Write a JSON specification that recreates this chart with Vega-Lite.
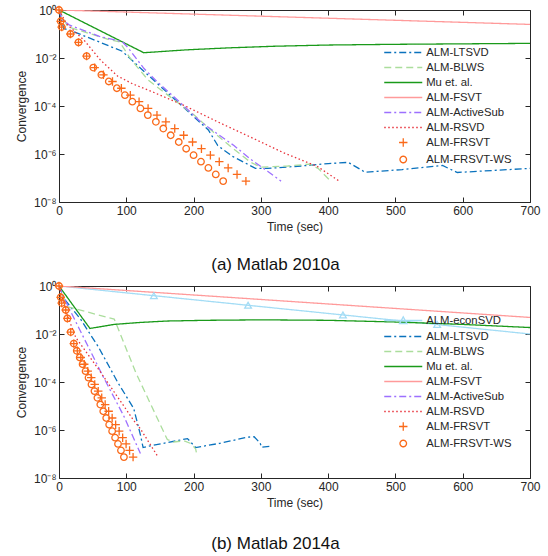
{
  "$schema": "https://vega.github.io/schema/vega-lite/v6.json",
  "background": "white",
  "padding": {"left": 15, "top": 3, "right": 5, "bottom": 0},
  "datasets": {
    "a_lines": [
      {"m": "ALM-LTSVD", "t": 0, "c": 1}, {"m": "ALM-LTSVD", "t": 7, "c": 0.17}, {"m": "ALM-LTSVD", "t": 20, "c": 0.132}, {"m": "ALM-LTSVD", "t": 94, "c": 0.0191}, {"m": "ALM-LTSVD", "t": 128, "c": 2.51e-3}, {"m": "ALM-LTSVD", "t": 222, "c": 1e-5}, {"m": "ALM-LTSVD", "t": 236, "c": 2.24e-6}, {"m": "ALM-LTSVD", "t": 258, "c": 7.94e-7}, {"m": "ALM-LTSVD", "t": 282, "c": 3.55e-7}, {"m": "ALM-LTSVD", "t": 292, "c": 2.51e-7}, {"m": "ALM-LTSVD", "t": 310, "c": 2.51e-7}, {"m": "ALM-LTSVD", "t": 360, "c": 3.16e-7}, {"m": "ALM-LTSVD", "t": 400, "c": 3.98e-7}, {"m": "ALM-LTSVD", "t": 430, "c": 4.47e-7}, {"m": "ALM-LTSVD", "t": 455, "c": 1.74e-7}, {"m": "ALM-LTSVD", "t": 510, "c": 2.24e-7}, {"m": "ALM-LTSVD", "t": 570, "c": 3.31e-7}, {"m": "ALM-LTSVD", "t": 592, "c": 1.70e-7}, {"m": "ALM-LTSVD", "t": 700, "c": 2.51e-7},
      {"m": "ALM-BLWS", "t": 0, "c": 1}, {"m": "ALM-BLWS", "t": 13, "c": 0.2}, {"m": "ALM-BLWS", "t": 73, "c": 0.0603}, {"m": "ALM-BLWS", "t": 90, "c": 0.0468}, {"m": "ALM-BLWS", "t": 108, "c": 7.94e-3}, {"m": "ALM-BLWS", "t": 133, "c": 1.17e-3}, {"m": "ALM-BLWS", "t": 168, "c": 2.09e-4}, {"m": "ALM-BLWS", "t": 200, "c": 4.37e-5}, {"m": "ALM-BLWS", "t": 230, "c": 7.94e-6}, {"m": "ALM-BLWS", "t": 260, "c": 1.58e-6}, {"m": "ALM-BLWS", "t": 285, "c": 4.47e-7}, {"m": "ALM-BLWS", "t": 300, "c": 2.82e-7}, {"m": "ALM-BLWS", "t": 340, "c": 3.16e-7}, {"m": "ALM-BLWS", "t": 372, "c": 3.8e-7}, {"m": "ALM-BLWS", "t": 385, "c": 2.51e-7}, {"m": "ALM-BLWS", "t": 401, "c": 8.91e-8},
      {"m": "Mu et. al.", "t": 0, "c": 1}, {"m": "Mu et. al.", "t": 126, "c": 0.0166}, {"m": "Mu et. al.", "t": 190, "c": 0.0219}, {"m": "Mu et. al.", "t": 250, "c": 0.0263}, {"m": "Mu et. al.", "t": 320, "c": 0.0309}, {"m": "Mu et. al.", "t": 400, "c": 0.0347}, {"m": "Mu et. al.", "t": 500, "c": 0.0372}, {"m": "Mu et. al.", "t": 600, "c": 0.0389}, {"m": "Mu et. al.", "t": 700, "c": 0.0407},
      {"m": "ALM-FSVT", "t": 0, "c": 1}, {"m": "ALM-FSVT", "t": 700, "c": 0.251},
      {"m": "ALM-ActiveSub", "t": 0, "c": 1}, {"m": "ALM-ActiveSub", "t": 5, "c": 0.398}, {"m": "ALM-ActiveSub", "t": 15, "c": 0.24}, {"m": "ALM-ActiveSub", "t": 30, "c": 0.166}, {"m": "ALM-ActiveSub", "t": 60, "c": 0.0794}, {"m": "ALM-ActiveSub", "t": 94, "c": 0.0479}, {"m": "ALM-ActiveSub", "t": 102, "c": 0.0282}, {"m": "ALM-ActiveSub", "t": 126, "c": 3.72e-3}, {"m": "ALM-ActiveSub", "t": 146, "c": 1.02e-3}, {"m": "ALM-ActiveSub", "t": 180, "c": 1.41e-4}, {"m": "ALM-ActiveSub", "t": 210, "c": 2.24e-5}, {"m": "ALM-ActiveSub", "t": 240, "c": 5.62e-6}, {"m": "ALM-ActiveSub", "t": 260, "c": 2.24e-6}, {"m": "ALM-ActiveSub", "t": 285, "c": 6.03e-7}, {"m": "ALM-ActiveSub", "t": 310, "c": 1.91e-7}, {"m": "ALM-ActiveSub", "t": 330, "c": 7.41e-8},
      {"m": "ALM-RSVD", "t": 0, "c": 1}, {"m": "ALM-RSVD", "t": 12, "c": 0.251}, {"m": "ALM-RSVD", "t": 37, "c": 0.0562}, {"m": "ALM-RSVD", "t": 62, "c": 7.94e-3}, {"m": "ALM-RSVD", "t": 87, "c": 1.78e-3}, {"m": "ALM-RSVD", "t": 110, "c": 8.2e-4}, {"m": "ALM-RSVD", "t": 136, "c": 4.2e-4}, {"m": "ALM-RSVD", "t": 186, "c": 1.05e-4}, {"m": "ALM-RSVD", "t": 235, "c": 2.24e-5}, {"m": "ALM-RSVD", "t": 285, "c": 5.01e-6}, {"m": "ALM-RSVD", "t": 334, "c": 1.12e-6}, {"m": "ALM-RSVD", "t": 384, "c": 3.02e-7}, {"m": "ALM-RSVD", "t": 416, "c": 7.59e-8}
    ],
    "a_marks": [
      {"m": "ALM-FRSVT", "t": 0, "c": 1}, {"m": "ALM-FRSVT", "t": 2.5, "c": 0.339}, {"m": "ALM-FRSVT", "t": 4, "c": 0.195}, {"m": "ALM-FRSVT", "t": 17, "c": 0.1}, {"m": "ALM-FRSVT", "t": 29, "c": 0.0447}, {"m": "ALM-FRSVT", "t": 41, "c": 0.012}, {"m": "ALM-FRSVT", "t": 53, "c": 3.98e-3}, {"m": "ALM-FRSVT", "t": 66, "c": 2.0e-3}, {"m": "ALM-FRSVT", "t": 79.5, "c": 1.05e-3}, {"m": "ALM-FRSVT", "t": 92.7, "c": 5.5e-4}, {"m": "ALM-FRSVT", "t": 106, "c": 2.82e-4}, {"m": "ALM-FRSVT", "t": 119, "c": 1.51e-4}, {"m": "ALM-FRSVT", "t": 132.4, "c": 7.94e-5}, {"m": "ALM-FRSVT", "t": 145.6, "c": 4.17e-5}, {"m": "ALM-FRSVT", "t": 158.8, "c": 2.19e-5}, {"m": "ALM-FRSVT", "t": 172, "c": 1.15e-5}, {"m": "ALM-FRSVT", "t": 185.3, "c": 6.03e-6}, {"m": "ALM-FRSVT", "t": 198.5, "c": 3.16e-6}, {"m": "ALM-FRSVT", "t": 211.7, "c": 1.66e-6}, {"m": "ALM-FRSVT", "t": 225, "c": 8.91e-7}, {"m": "ALM-FRSVT", "t": 238.2, "c": 4.79e-7}, {"m": "ALM-FRSVT", "t": 251.4, "c": 2.63e-7}, {"m": "ALM-FRSVT", "t": 264.6, "c": 1.41e-7}, {"m": "ALM-FRSVT", "t": 277.8, "c": 7.41e-8},
      {"m": "ALM-FRSVT-WS", "t": 0, "c": 1}, {"m": "ALM-FRSVT-WS", "t": 2.5, "c": 0.339}, {"m": "ALM-FRSVT-WS", "t": 4, "c": 0.195}, {"m": "ALM-FRSVT-WS", "t": 17, "c": 0.1}, {"m": "ALM-FRSVT-WS", "t": 29, "c": 0.0447}, {"m": "ALM-FRSVT-WS", "t": 41, "c": 0.012}, {"m": "ALM-FRSVT-WS", "t": 51, "c": 3.98e-3}, {"m": "ALM-FRSVT-WS", "t": 63, "c": 2.0e-3}, {"m": "ALM-FRSVT-WS", "t": 74, "c": 1.05e-3}, {"m": "ALM-FRSVT-WS", "t": 86, "c": 5.5e-4}, {"m": "ALM-FRSVT-WS", "t": 98, "c": 2.82e-4}, {"m": "ALM-FRSVT-WS", "t": 109, "c": 1.51e-4}, {"m": "ALM-FRSVT-WS", "t": 121, "c": 7.94e-5}, {"m": "ALM-FRSVT-WS", "t": 132, "c": 4.17e-5}, {"m": "ALM-FRSVT-WS", "t": 144, "c": 2.19e-5}, {"m": "ALM-FRSVT-WS", "t": 155, "c": 1.15e-5}, {"m": "ALM-FRSVT-WS", "t": 166, "c": 6.03e-6}, {"m": "ALM-FRSVT-WS", "t": 178, "c": 3.16e-6}, {"m": "ALM-FRSVT-WS", "t": 189, "c": 1.66e-6}, {"m": "ALM-FRSVT-WS", "t": 200, "c": 8.91e-7}, {"m": "ALM-FRSVT-WS", "t": 211, "c": 4.79e-7}, {"m": "ALM-FRSVT-WS", "t": 222, "c": 2.63e-7}, {"m": "ALM-FRSVT-WS", "t": 233, "c": 1.41e-7}, {"m": "ALM-FRSVT-WS", "t": 244, "c": 7.41e-8}
    ],
    "b_lines": [
      {"m": "ALM-econSVD", "t": 0, "c": 1}, {"m": "ALM-econSVD", "t": 141, "c": 0.395}, {"m": "ALM-econSVD", "t": 281, "c": 0.157}, {"m": "ALM-econSVD", "t": 422, "c": 0.0622}, {"m": "ALM-econSVD", "t": 562, "c": 0.0248}, {"m": "ALM-econSVD", "t": 700, "c": 0.01},
      {"m": "ALM-LTSVD", "t": 0, "c": 1}, {"m": "ALM-LTSVD", "t": 8, "c": 0.282}, {"m": "ALM-LTSVD", "t": 32, "c": 0.0417}, {"m": "ALM-LTSVD", "t": 59, "c": 2.75e-3}, {"m": "ALM-LTSVD", "t": 87, "c": 1e-4}, {"m": "ALM-LTSVD", "t": 111, "c": 7.94e-6}, {"m": "ALM-LTSVD", "t": 121, "c": 6.31e-7}, {"m": "ALM-LTSVD", "t": 125, "c": 1.86e-7}, {"m": "ALM-LTSVD", "t": 136, "c": 2.19e-7}, {"m": "ALM-LTSVD", "t": 191, "c": 4.37e-7}, {"m": "ALM-LTSVD", "t": 198, "c": 2.69e-7}, {"m": "ALM-LTSVD", "t": 203, "c": 1.86e-7}, {"m": "ALM-LTSVD", "t": 240, "c": 2.82e-7}, {"m": "ALM-LTSVD", "t": 280, "c": 5.01e-7}, {"m": "ALM-LTSVD", "t": 290, "c": 5.25e-7}, {"m": "ALM-LTSVD", "t": 299, "c": 2.82e-7}, {"m": "ALM-LTSVD", "t": 301, "c": 1.91e-7}, {"m": "ALM-LTSVD", "t": 317, "c": 2.14e-7},
      {"m": "ALM-BLWS", "t": 0, "c": 1}, {"m": "ALM-BLWS", "t": 12, "c": 0.138}, {"m": "ALM-BLWS", "t": 82, "c": 0.0417}, {"m": "ALM-BLWS", "t": 84, "c": 0.0316}, {"m": "ALM-BLWS", "t": 114, "c": 2.51e-4}, {"m": "ALM-BLWS", "t": 161, "c": 3.98e-7}, {"m": "ALM-BLWS", "t": 170, "c": 3.16e-7}, {"m": "ALM-BLWS", "t": 186, "c": 3.55e-7}, {"m": "ALM-BLWS", "t": 195, "c": 2.82e-7}, {"m": "ALM-BLWS", "t": 203, "c": 1.66e-7}, {"m": "ALM-BLWS", "t": 205, "c": 8.91e-8},
      {"m": "Mu et. al.", "t": 0, "c": 1}, {"m": "Mu et. al.", "t": 46, "c": 0.017}, {"m": "Mu et. al.", "t": 82, "c": 0.0251}, {"m": "Mu et. al.", "t": 120, "c": 0.0302}, {"m": "Mu et. al.", "t": 160, "c": 0.0347}, {"m": "Mu et. al.", "t": 220, "c": 0.0372}, {"m": "Mu et. al.", "t": 300, "c": 0.0389}, {"m": "Mu et. al.", "t": 400, "c": 0.0372}, {"m": "Mu et. al.", "t": 500, "c": 0.0316}, {"m": "Mu et. al.", "t": 600, "c": 0.0251}, {"m": "Mu et. al.", "t": 700, "c": 0.0186},
      {"m": "ALM-FSVT", "t": 0, "c": 1}, {"m": "ALM-FSVT", "t": 700, "c": 0.049},
      {"m": "ALM-ActiveSub", "t": 0, "c": 1}, {"m": "ALM-ActiveSub", "t": 10, "c": 0.224}, {"m": "ALM-ActiveSub", "t": 42, "c": 3.55e-3}, {"m": "ALM-ActiveSub", "t": 67, "c": 1.41e-4}, {"m": "ALM-ActiveSub", "t": 96, "c": 3.98e-6}, {"m": "ALM-ActiveSub", "t": 121, "c": 1.05e-7},
      {"m": "ALM-RSVD", "t": 0, "c": 1}, {"m": "ALM-RSVD", "t": 12, "c": 0.0631}, {"m": "ALM-RSVD", "t": 25, "c": 7.08e-3}, {"m": "ALM-RSVD", "t": 62, "c": 2.51e-4}, {"m": "ALM-RSVD", "t": 111, "c": 2.51e-6}, {"m": "ALM-RSVD", "t": 121, "c": 1.12e-6}, {"m": "ALM-RSVD", "t": 146, "c": 8.51e-8}
    ],
    "b_marks": [
      {"m": "ALM-FRSVT", "t": 0, "c": 1}, {"m": "ALM-FRSVT", "t": 2.5, "c": 0.339}, {"m": "ALM-FRSVT", "t": 4, "c": 0.195}, {"m": "ALM-FRSVT", "t": 10, "c": 0.1}, {"m": "ALM-FRSVT", "t": 12.5, "c": 0.0447}, {"m": "ALM-FRSVT", "t": 17.4, "c": 0.012}, {"m": "ALM-FRSVT", "t": 22, "c": 3.98e-3}, {"m": "ALM-FRSVT", "t": 27.2, "c": 2.0e-3}, {"m": "ALM-FRSVT", "t": 32.4, "c": 1.05e-3}, {"m": "ALM-FRSVT", "t": 37.5, "c": 5.5e-4}, {"m": "ALM-FRSVT", "t": 42.7, "c": 2.82e-4}, {"m": "ALM-FRSVT", "t": 47.9, "c": 1.51e-4}, {"m": "ALM-FRSVT", "t": 53.1, "c": 7.94e-5}, {"m": "ALM-FRSVT", "t": 58.3, "c": 4.17e-5}, {"m": "ALM-FRSVT", "t": 63.5, "c": 2.19e-5}, {"m": "ALM-FRSVT", "t": 68.6, "c": 1.15e-5}, {"m": "ALM-FRSVT", "t": 73.8, "c": 6.03e-6}, {"m": "ALM-FRSVT", "t": 79, "c": 3.16e-6}, {"m": "ALM-FRSVT", "t": 84.2, "c": 1.66e-6}, {"m": "ALM-FRSVT", "t": 89.4, "c": 8.91e-7}, {"m": "ALM-FRSVT", "t": 94.6, "c": 4.79e-7}, {"m": "ALM-FRSVT", "t": 99.7, "c": 2.63e-7}, {"m": "ALM-FRSVT", "t": 104.9, "c": 1.41e-7}, {"m": "ALM-FRSVT", "t": 110.1, "c": 7.41e-8},
      {"m": "ALM-FRSVT-WS", "t": 0, "c": 1}, {"m": "ALM-FRSVT-WS", "t": 2.5, "c": 0.339}, {"m": "ALM-FRSVT-WS", "t": 4, "c": 0.195}, {"m": "ALM-FRSVT-WS", "t": 10, "c": 0.1}, {"m": "ALM-FRSVT-WS", "t": 12.5, "c": 0.0447}, {"m": "ALM-FRSVT-WS", "t": 17.4, "c": 0.012}, {"m": "ALM-FRSVT-WS", "t": 22, "c": 3.98e-3}, {"m": "ALM-FRSVT-WS", "t": 26.4, "c": 2.0e-3}, {"m": "ALM-FRSVT-WS", "t": 30.8, "c": 1.05e-3}, {"m": "ALM-FRSVT-WS", "t": 35.1, "c": 5.5e-4}, {"m": "ALM-FRSVT-WS", "t": 39.5, "c": 2.82e-4}, {"m": "ALM-FRSVT-WS", "t": 43.9, "c": 1.51e-4}, {"m": "ALM-FRSVT-WS", "t": 48.3, "c": 7.94e-5}, {"m": "ALM-FRSVT-WS", "t": 52.7, "c": 4.17e-5}, {"m": "ALM-FRSVT-WS", "t": 57.1, "c": 2.19e-5}, {"m": "ALM-FRSVT-WS", "t": 61.4, "c": 1.15e-5}, {"m": "ALM-FRSVT-WS", "t": 65.8, "c": 6.03e-6}, {"m": "ALM-FRSVT-WS", "t": 70.2, "c": 3.16e-6}, {"m": "ALM-FRSVT-WS", "t": 74.6, "c": 1.66e-6}, {"m": "ALM-FRSVT-WS", "t": 79, "c": 8.91e-7}, {"m": "ALM-FRSVT-WS", "t": 83.4, "c": 4.79e-7}, {"m": "ALM-FRSVT-WS", "t": 87.7, "c": 2.63e-7}, {"m": "ALM-FRSVT-WS", "t": 92.1, "c": 1.41e-7}, {"m": "ALM-FRSVT-WS", "t": 96.5, "c": 7.41e-8}
    ]
  },
  "spacing": 6,
  "vconcat": [
    {
      "width": 471, "height": 192,
      "title": {"text": "(a)  Matlab 2010a", "orient": "bottom", "offset": 25, "dx": -19},
      "layer": [
        {
          "data": {"name": "a_lines"},
          "mark": {"type": "line", "strokeWidth": 1.3, "clip": true},
          "encoding": {
            "x": {"field": "t", "type": "quantitative", "scale": {"domain": [0, 700], "nice": false}, "axis": {"orient": "bottom", "values": [0, 100, 200, 300, 400, 500, 600, 700], "title": "Time (sec)"}},
            "y": {"field": "c", "type": "quantitative", "scale": {"type": "log", "domain": [1e-8, 1], "nice": false}, "axis": {"orient": "left", "values": [1e-8, 1e-6, 1e-4, 1e-2, 1], "title": "Convergence", "labelExpr": "'10' + (datum.value >= 0.5 ? '⁰' : datum.value >= 0.005 ? '⁻²' : datum.value >= 5e-5 ? '⁻⁴' : datum.value >= 5e-7 ? '⁻⁶' : '⁻⁸')"}},
            "color": {"field": "m", "type": "nominal", "scale": {"domain": ["ALM-LTSVD", "ALM-BLWS", "Mu et. al.", "ALM-FSVT", "ALM-ActiveSub", "ALM-RSVD", "ALM-FRSVT", "ALM-FRSVT-WS"], "range": ["#0a72bd", "#abdd9c", "#1a9a1a", "#ff9a9a", "#9d70ff", "#e8333b", "#fa6a1a", "#fa6a1a"]}, "legend": {"title": null, "orient": "none", "legendX": 325, "legendY": 33}},
            "strokeDash": {"field": "m", "type": "nominal", "scale": {"domain": ["ALM-LTSVD", "ALM-BLWS", "Mu et. al.", "ALM-FSVT", "ALM-ActiveSub", "ALM-RSVD", "ALM-FRSVT", "ALM-FRSVT-WS"], "range": [[7, 3, 2, 3], [7, 4], [1, 0], [1, 0], [7, 3, 2, 3], [1.5, 2.5], [1, 0], [1, 0]]}, "legend": {"title": null, "orient": "none", "legendX": 325, "legendY": 33}}
          }
        },
        {
          "data": {"name": "a_marks"},
          "mark": {"type": "point", "filled": false, "size": 296, "strokeWidth": 1.3, "opacity": 1},
          "encoding": {
            "x": {"field": "t", "type": "quantitative", "scale": {"domain": [0, 700], "nice": false}, "axis": {"orient": "top", "values": [0, 100, 200, 300, 400, 500, 600, 700], "labels": false, "title": null}},
            "y": {"field": "c", "type": "quantitative", "scale": {"type": "log", "domain": [1e-8, 1], "nice": false}, "axis": {"orient": "right", "values": [1e-8, 1e-6, 1e-4, 1e-2, 1], "labels": false, "title": null}},
            "color": {"field": "m", "type": "nominal", "scale": {"domain": ["ALM-LTSVD", "ALM-BLWS", "Mu et. al.", "ALM-FSVT", "ALM-ActiveSub", "ALM-RSVD", "ALM-FRSVT", "ALM-FRSVT-WS"], "range": ["#0a72bd", "#abdd9c", "#1a9a1a", "#ff9a9a", "#9d70ff", "#e8333b", "#fa6a1a", "#fa6a1a"]}, "legend": {"title": null, "orient": "none", "legendX": 325, "legendY": 33}},
            "shape": {"field": "m", "type": "nominal", "scale": {"domain": ["ALM-LTSVD", "ALM-BLWS", "Mu et. al.", "ALM-FSVT", "ALM-ActiveSub", "ALM-RSVD", "ALM-FRSVT", "ALM-FRSVT-WS"], "range": ["M-2.21,0H2.21", "M-2.21,0H2.21", "M-2.21,0H2.21", "M-2.21,0H2.21", "M-2.21,0H2.21", "M-2.21,0H2.21", "M-0.49,0H0.49M0,-0.49V0.49", "M0.38,0A0.38,0.38,0,1,1,-0.38,0A0.38,0.38,0,1,1,0.38,0Z"]}, "legend": {"title": null, "orient": "none", "legendX": 325, "legendY": 33}}
          }
        }
      ],
      "resolve": {"axis": {"x": "independent", "y": "independent"}}
    },
    {
      "width": 471, "height": 192,
      "title": {"text": "(b)  Matlab 2014a", "orient": "bottom", "offset": 28, "dx": -19},
      "layer": [
        {
          "data": {"name": "b_lines"},
          "mark": {"type": "line", "strokeWidth": 1.3, "clip": true},
          "encoding": {
            "x": {"field": "t", "type": "quantitative", "scale": {"domain": [0, 700], "nice": false}, "axis": {"orient": "bottom", "values": [0, 100, 200, 300, 400, 500, 600, 700], "title": "Time (sec)"}},
            "y": {"field": "c", "type": "quantitative", "scale": {"type": "log", "domain": [1e-8, 1], "nice": false}, "axis": {"orient": "left", "values": [1e-8, 1e-6, 1e-4, 1e-2, 1], "title": "Convergence", "labelExpr": "'10' + (datum.value >= 0.5 ? '⁰' : datum.value >= 0.005 ? '⁻²' : datum.value >= 5e-5 ? '⁻⁴' : datum.value >= 5e-7 ? '⁻⁶' : '⁻⁸')"}},
            "color": {"field": "m", "type": "nominal", "scale": {"domain": ["ALM-econSVD", "ALM-LTSVD", "ALM-BLWS", "Mu et. al.", "ALM-FSVT", "ALM-ActiveSub", "ALM-RSVD", "ALM-FRSVT", "ALM-FRSVT-WS"], "range": ["#a3dcf5", "#0a72bd", "#abdd9c", "#1a9a1a", "#ff9a9a", "#9d70ff", "#e8333b", "#fa6a1a", "#fa6a1a"]}, "legend": {"title": null, "orient": "none", "legendX": 325, "legendY": 25}},
            "strokeDash": {"field": "m", "type": "nominal", "scale": {"domain": ["ALM-econSVD", "ALM-LTSVD", "ALM-BLWS", "Mu et. al.", "ALM-FSVT", "ALM-ActiveSub", "ALM-RSVD", "ALM-FRSVT", "ALM-FRSVT-WS"], "range": [[1, 0], [7, 3, 2, 3], [7, 4], [1, 0], [1, 0], [7, 3, 2, 3], [1.5, 2.5], [1, 0], [1, 0]]}, "legend": {"title": null, "orient": "none", "legendX": 325, "legendY": 25}}
          }
        },
        {
          "data": {"name": "b_lines"},
          "transform": [{"filter": "datum.m == 'ALM-econSVD' && datum.t > 0 && datum.t < 700"}],
          "mark": {"type": "point", "shape": "triangle-up", "filled": false, "size": 45, "strokeWidth": 1.3, "opacity": 1},
          "encoding": {
            "x": {"field": "t", "type": "quantitative", "axis": null},
            "y": {"field": "c", "type": "quantitative", "axis": null},
            "color": {"field": "m", "type": "nominal", "legend": null}
          }
        },
        {
          "data": {"name": "b_marks"},
          "mark": {"type": "point", "filled": false, "size": 296, "strokeWidth": 1.3, "opacity": 1},
          "encoding": {
            "x": {"field": "t", "type": "quantitative", "axis": {"orient": "top", "values": [0, 100, 200, 300, 400, 500, 600, 700], "labels": false, "title": null}},
            "y": {"field": "c", "type": "quantitative", "axis": {"orient": "right", "values": [1e-8, 1e-6, 1e-4, 1e-2, 1], "labels": false, "title": null}},
            "color": {"field": "m", "type": "nominal", "legend": {"title": null, "orient": "none", "legendX": 325, "legendY": 25}},
            "shape": {"field": "m", "type": "nominal", "scale": {"domain": ["ALM-econSVD", "ALM-LTSVD", "ALM-BLWS", "Mu et. al.", "ALM-FSVT", "ALM-ActiveSub", "ALM-RSVD", "ALM-FRSVT", "ALM-FRSVT-WS"], "range": ["M-2.21,0H2.21M0,-0.42L0.44,0.35L-0.44,0.35Z", "M-2.21,0H2.21", "M-2.21,0H2.21", "M-2.21,0H2.21", "M-2.21,0H2.21", "M-2.21,0H2.21", "M-2.21,0H2.21", "M-0.49,0H0.49M0,-0.49V0.49", "M0.38,0A0.38,0.38,0,1,1,-0.38,0A0.38,0.38,0,1,1,0.38,0Z"]}, "legend": {"title": null, "orient": "none", "legendX": 325, "legendY": 25}}
          }
        }
      ],
      "resolve": {"axis": {"x": "independent", "y": "independent"}}
    }
  ],
  "resolve": {"scale": {"color": "independent", "strokeDash": "independent", "shape": "independent"}, "legend": {"color": "independent", "strokeDash": "independent", "shape": "independent"}},
  "config": {
    "font": "Liberation Sans",
    "view": {"stroke": null},
    "axis": {"grid": false, "domainColor": "#262626", "domainWidth": 1, "tickColor": "#262626", "tickWidth": 1, "tickSize": -5, "labelPadding": 8, "labelColor": "#262626", "labelFontSize": 12, "labelFont": "Liberation Sans", "titleFont": "Liberation Sans", "titleFontSize": 12, "titleFontWeight": "normal", "titleColor": "#262626", "titlePadding": 5},
    "axisX": {"labelFlush": false},
    "axisY": {"labelFlush": false},
    "legend": {"padding": 0, "symbolSize": 296, "symbolOffset": 9.75, "symbolStrokeWidth": 1.3, "labelFont": "Liberation Sans", "labelFontSize": 11.3, "labelColor": "#262626", "labelOffset": 13.4, "rowPadding": 0, "symbolFillColor": "transparent"},
    "title": {"font": "Liberation Sans", "fontSize": 17, "fontWeight": "normal", "color": "#111111", "anchor": "middle"}
  }
}
